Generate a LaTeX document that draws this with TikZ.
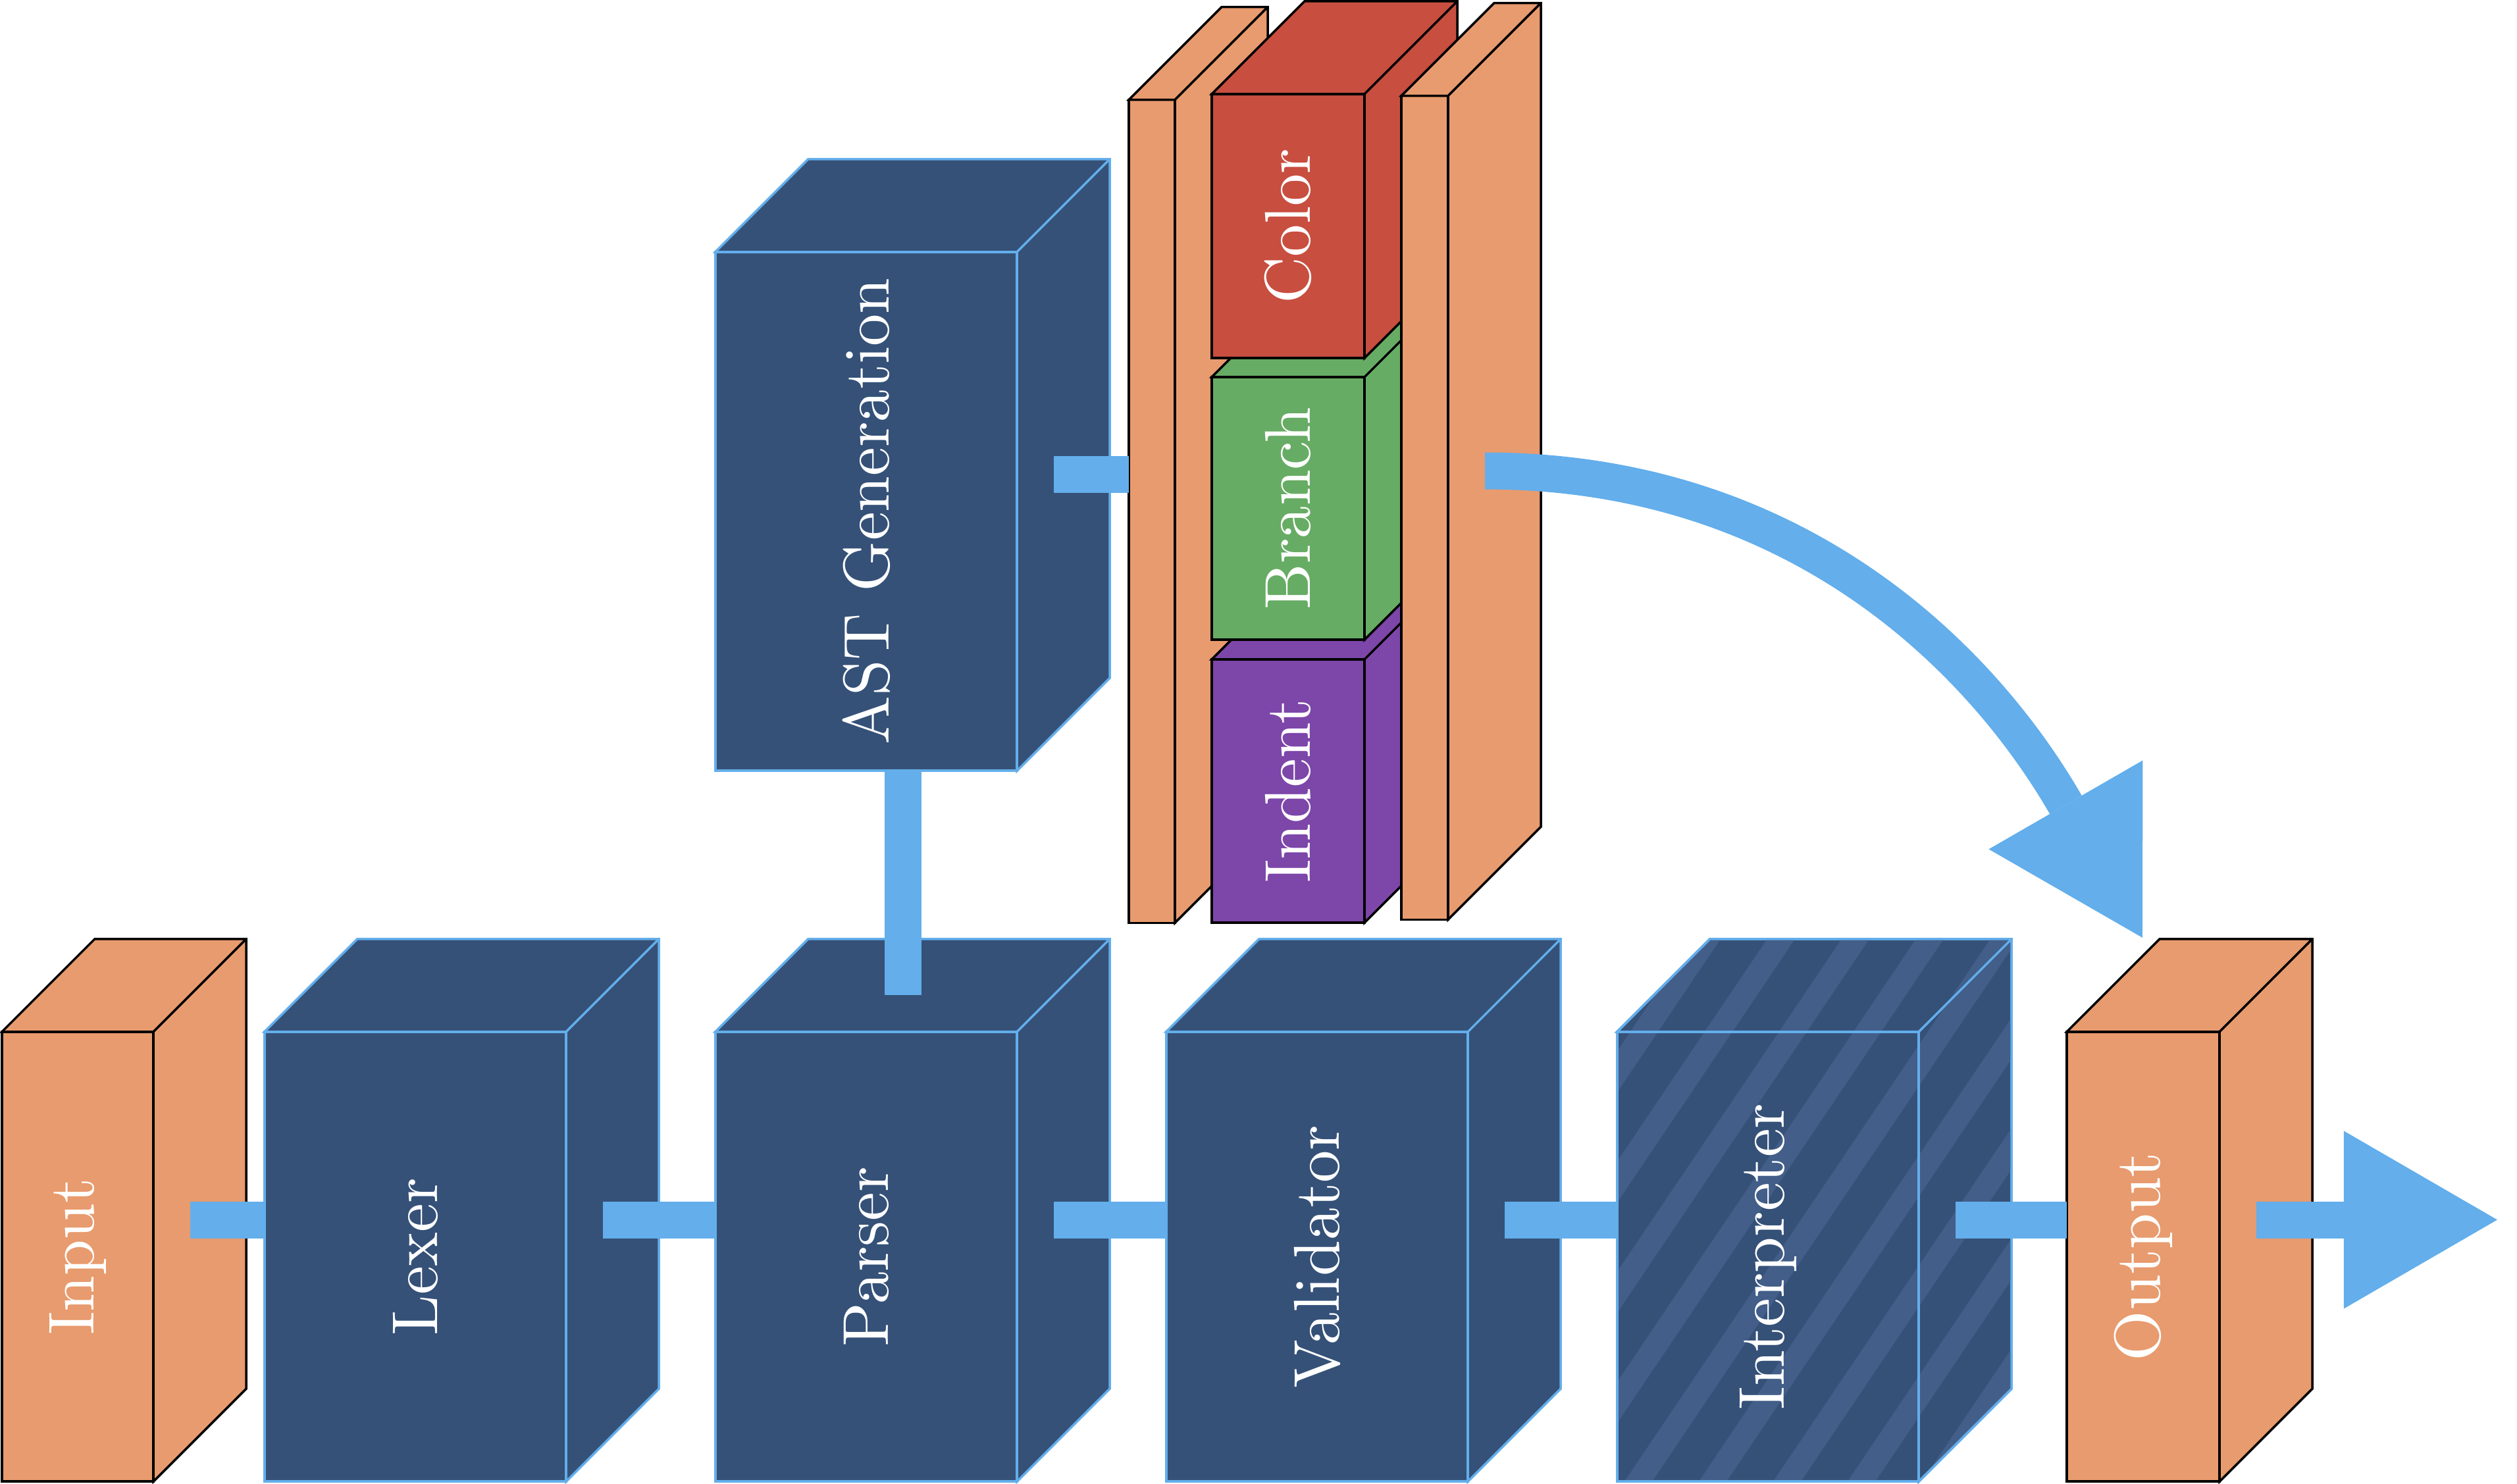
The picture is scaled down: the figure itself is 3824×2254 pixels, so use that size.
\documentclass[tikz,border=0pt]{standalone}
\usepackage{fontspec}
\setmainfont{lmroman10-regular.otf}
\usepackage{graphicx}
\usetikzlibrary{calc,arrows.meta}

\definecolor{convblue}{HTML}{355178}
\definecolor{stripeblue}{HTML}{425E89}
\definecolor{linkblue}{HTML}{63AEEB}
\definecolor{ioorange}{HTML}{E89B6E}
\definecolor{colorred}{HTML}{C84E40}
\definecolor{branchgreen}{HTML}{67AC64}
\definecolor{indentpurple}{HTML}{7D46A9}

\tikzset{
  front/.style={rectangle, inner sep=0pt, outer sep=0pt, line width=1pt, line join=miter, text=white, font=\fontsize{28}{34}\selectfont},
  conv/.style={front, draw=linkblue, fill=convblue},
  io/.style={front, draw=black, fill=ioorange},
  convface/.style={draw=linkblue, fill=convblue, line width=1pt},
  ioface/.style={draw=black, fill=ioorange, line width=1pt},
  tall/.style={minimum width=4.58cm, minimum height=6.83cm},
  link/.style={linkblue, line width=0.56cm},
  flow/.style={link, -{Triangle[length=2.33cm, width=2.7cm, line width=0pt]}},
}

% top and side faces of a box, drawn from the front node
\newcommand{\boxfaces}[2]{%
  \draw[#2] (#1.north west) -- ++(141,-141) -- ($(#1.north east)+(141,-141)$)
    -- ($(#1.south east)+(141,-141)$) -- (#1.south east) -- (#1.north east) -- cycle
    (#1.north east) -- ++(141,-141);
}

\begin{document}
\begin{tikzpicture}[x=0.01cm, y=-0.01cm]
    \useasboundingbox (0,0) rectangle (3824,2254);

    % main row
    \node (input) [io, minimum width=2.30cm, minimum height=6.83cm] at (118,1909.5) {\rotatebox{90}{Input}};
    \boxfaces{input}{ioface}
    \node (lexer) [conv, tall] at (631,1909.5) {\rotatebox{90}{Lexer}};
    \boxfaces{lexer}{convface}
    \node (parser) [conv, tall] at (1316,1909.5) {\rotatebox{90}{Parser}};
    \boxfaces{parser}{convface}
    \node (validator) [conv, tall] at (2001,1909.5) {\rotatebox{90}{Validator}};
    \boxfaces{validator}{convface}
    \node (interp) [conv, tall] at (2686,1909.5) {};
    \boxfaces{interp}{convface}
    \begin{scope}
        \clip (interp.south west) -- (interp.north west) -- ++(141,-141) -- ($(interp.north east)+(141,-141)$)
            -- ($(interp.south east)+(141,-141)$) -- (interp.south east) -- cycle;
        \foreach \k in {-3,...,9}
            \draw[stripeblue, line width=0.35cm] (2117+113*\k,2300) -- ++(607,-900);
    \end{scope}
    \draw[linkblue, line width=1pt] (interp.north west) rectangle (interp.south east);
    \boxfaces{interp}{draw=linkblue, line width=1pt}
    \node (interptext) [front] at (interp) {\rotatebox{90}{Interpreter}};
    \node (output) [io, minimum width=2.32cm, minimum height=6.83cm] at (3256,1909.5) {\rotatebox{90}{Output}};
    \boxfaces{output}{ioface}

    % AST branch
    \node (ast) [conv, minimum width=4.58cm, minimum height=7.88cm] at (1316,777) {\rotatebox{90}{AST Generation}};
    \boxfaces{ast}{convface}

    \node (slabL) [io, minimum width=0.70cm, minimum height=12.50cm] at (1750,777) {};
    \boxfaces{slabL}{ioface}
    \node (indent) [front, draw=black, fill=indentpurple, minimum width=2.32cm, minimum height=4.00cm] at (1957,1202) {\rotatebox{90}{Indent}};
    \boxfaces{indent}{draw=black, fill=indentpurple, line width=1pt}
    \node (branch) [front, draw=black, fill=branchgreen, minimum width=2.32cm, minimum height=3.99cm] at (1957,772.5) {\rotatebox{90}{Branch}};
    \boxfaces{branch}{draw=black, fill=branchgreen, line width=1pt}
    \node (color) [front, draw=black, fill=colorred, minimum width=2.32cm, minimum height=4.01cm] at (1957,343.5) {\rotatebox{90}{Color}};
    \boxfaces{color}{draw=black, fill=colorred, line width=1pt}
    \node (slabR) [io, minimum width=0.71cm, minimum height=12.51cm] at (2164.5,771.5) {};
    \boxfaces{slabR}{ioface}

    % links
    \draw[link] ($(input.east)+(56,-56)$) -- ($(lexer.west)+(0,-56)$);
    \draw[link] ($(lexer.east)+(56,-56)$) -- ($(parser.west)+(0,-56)$);
    \draw[link] ($(parser.east)+(56,-56)$) -- ($(validator.west)+(0,-56)$);
    \draw[link] ($(validator.east)+(56,-56)$) -- ($(interp.west)+(0,-56)$);
    \draw[link] ($(interp.east)+(56,-56)$) -- ($(output.west)+(0,-56)$);
    \draw[link] ($(parser.north)+(56,-56)$) -- ($(ast.south)+(56,0)$);
    \draw[link] ($(ast.east)+(56,-56)$) -- ($(slabL.west)+(0,-56)$);

    \coordinate (outtip) at (3794,1853.5);
    \draw[flow] ($(output.east)+(56,-56)$) -- (outtip);
    \draw[flow] ($(slabR.east)+(56,-56)$) .. controls +(480,0) and +(-240,-416) .. ($(output.north west)+(115,-143)$);
\end{tikzpicture}
\end{document}
